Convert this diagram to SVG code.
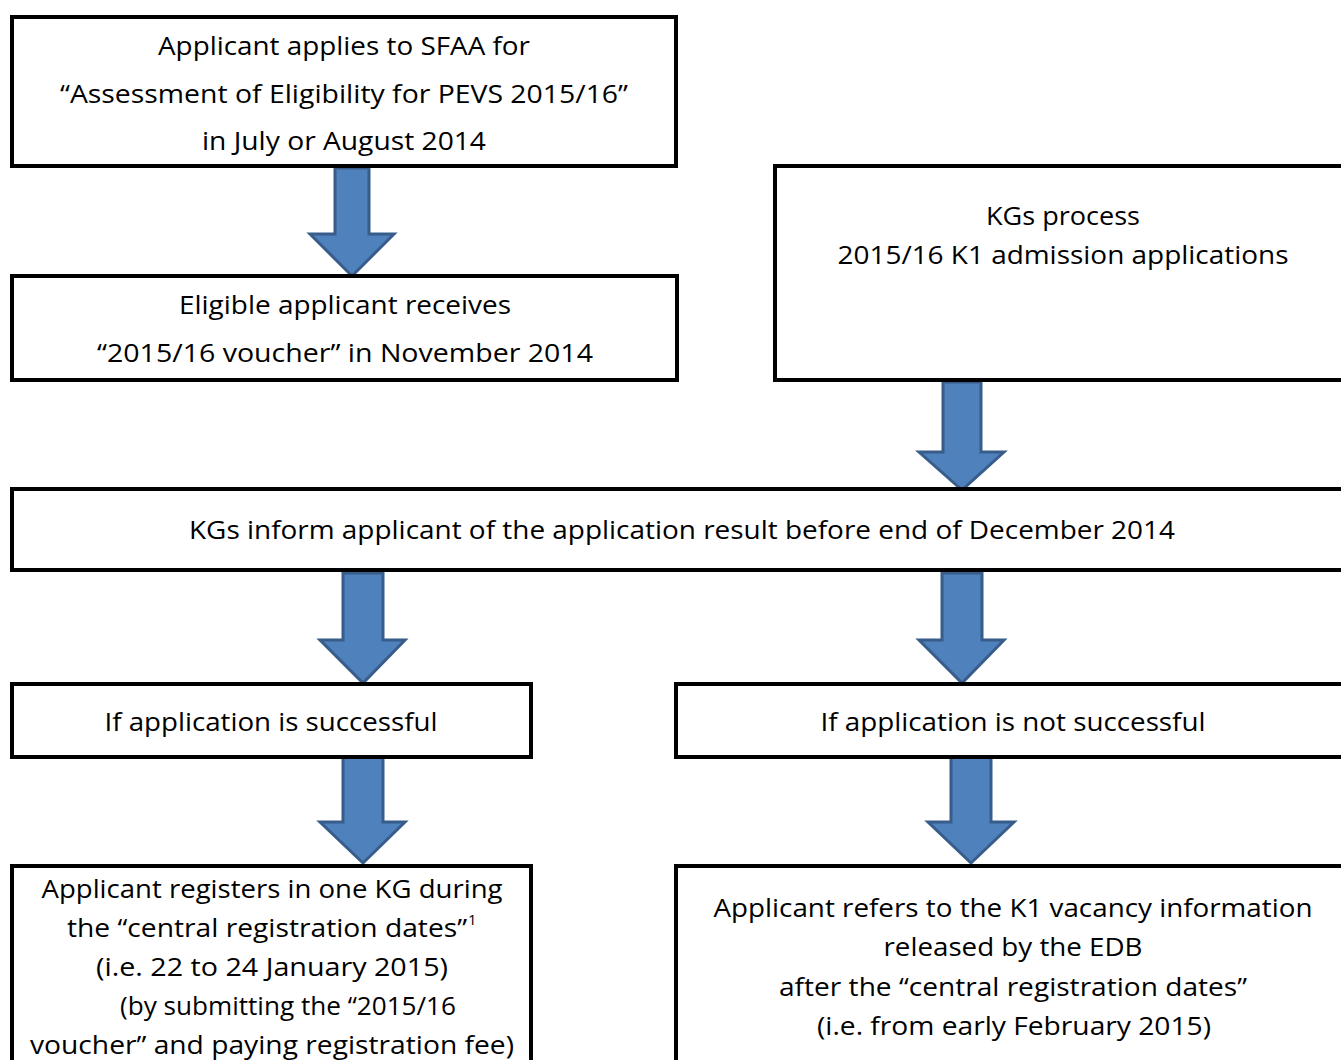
<svg xmlns="http://www.w3.org/2000/svg" width="1341" height="1060" viewBox="0 0 1341 1060">
<style>
.box{fill:#fff;stroke:#000;stroke-width:4}
.arr{fill:#4F81BD;stroke:#385D8A;stroke-width:3;stroke-linejoin:miter}
text{font-family:"Open Sans","Liberation Sans",Arial,sans-serif;font-size:25px;fill:#000;text-anchor:middle}
.sup{font-size:15px;text-anchor:start}
</style>
<rect width="1341" height="1060" fill="#fff"/>
<g id="connectors">
<polygon class="arr" points="335,168 369,168 369,234 394,234 352,276 310,234 335,234"/>
<polygon class="arr" points="943,382 981,382 981,452 1004,452 962,490 919,452 943,452"/>
<polygon class="arr" points="343,573 383,573 383,640 405,640 363,683 320,640 343,640"/>
<polygon class="arr" points="942,573 982,573 982,640 1004,640 962,683 919,640 942,640"/>
<polygon class="arr" points="343,757 383,757 383,822 405,822 363,863 320,822 343,822"/>
<polygon class="arr" points="951,757 991,757 991,822 1014,822 971,863 928,822 951,822"/>
</g>
<g id="n1">
<rect class="box" x="12" y="17" width="664" height="149"/>
<text x="344" y="55" textLength="372" lengthAdjust="spacingAndGlyphs">Applicant applies to SFAA for</text>
<text x="344" y="103" textLength="568" lengthAdjust="spacingAndGlyphs">“Assessment of Eligibility for PEVS 2015/16”</text>
<text x="344" y="150" textLength="284" lengthAdjust="spacingAndGlyphs">in July or August 2014</text>
</g>
<g id="n2">
<rect class="box" x="12" y="276" width="665" height="104"/>
<text x="345" y="314" textLength="332" lengthAdjust="spacingAndGlyphs">Eligible applicant receives</text>
<text x="345" y="362" textLength="496" lengthAdjust="spacingAndGlyphs">“2015/16 voucher” in November 2014</text>
</g>
<g id="n3">
<rect class="box" x="775" y="166" width="580" height="214"/>
<text x="1063" y="225" textLength="154" lengthAdjust="spacingAndGlyphs">KGs process</text>
<text x="1063" y="264" textLength="451" lengthAdjust="spacingAndGlyphs">2015/16 K1 admission applications</text>
</g>
<g id="n4">
<rect class="box" x="12" y="489" width="1343" height="81"/>
<text x="682" y="539" textLength="986" lengthAdjust="spacingAndGlyphs">KGs inform applicant of the application result before end of December 2014</text>
</g>
<g id="n5">
<rect class="box" x="12" y="684" width="519" height="73"/>
<text x="271" y="731" textLength="333" lengthAdjust="spacingAndGlyphs">If application is successful</text>
</g>
<g id="n6">
<rect class="box" x="676" y="684" width="679" height="73"/>
<text x="1013" y="731" textLength="385" lengthAdjust="spacingAndGlyphs">If application is not successful</text>
</g>
<g id="n7">
<rect class="box" x="12" y="866" width="519" height="210"/>
<text x="272" y="898" textLength="461" lengthAdjust="spacingAndGlyphs">Applicant registers in one KG during</text>
<text x="267" y="937" textLength="400" lengthAdjust="spacingAndGlyphs">the “central registration dates”</text>
<text class="sup" x="468" y="925">1</text>
<text x="288" y="1015" textLength="336" lengthAdjust="spacingAndGlyphs">(by submitting the “2015/16</text>
<text x="272" y="976" textLength="352" lengthAdjust="spacingAndGlyphs">(i.e. 22 to 24 January 2015)</text>
<text x="272" y="1054" textLength="484" lengthAdjust="spacingAndGlyphs">voucher” and paying registration fee)</text>
</g>
<g id="n8">
<rect class="box" x="676" y="866" width="679" height="210"/>
<text x="1013" y="917" textLength="599" lengthAdjust="spacingAndGlyphs">Applicant refers to the K1 vacancy information</text>
<text x="1013" y="956" textLength="259" lengthAdjust="spacingAndGlyphs">released by the EDB</text>
<text x="1013" y="996" textLength="468" lengthAdjust="spacingAndGlyphs">after the “central registration dates”</text>
<text x="1014" y="1035" textLength="394" lengthAdjust="spacingAndGlyphs">(i.e. from early February 2015)</text>
</g>
</svg>
